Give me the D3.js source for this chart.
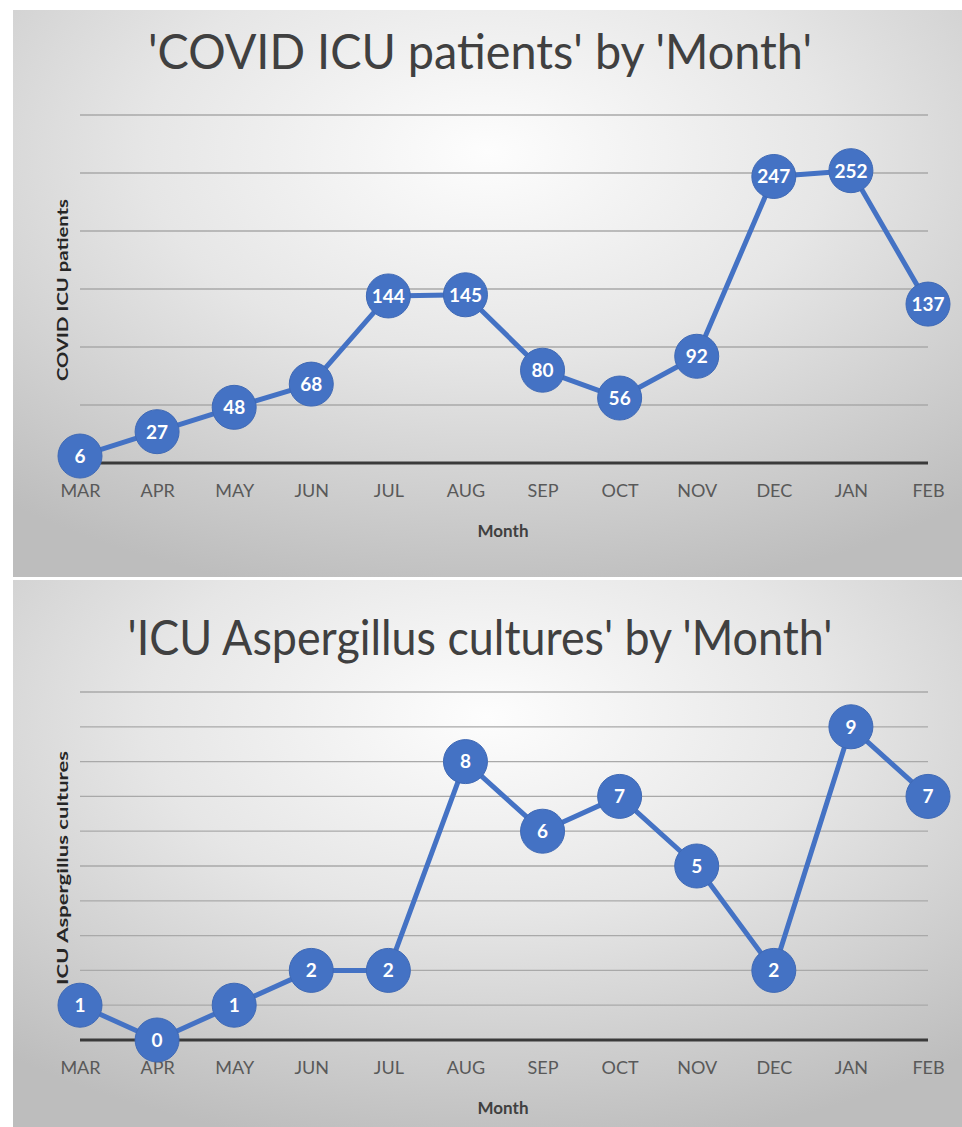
<!DOCTYPE html>
<html>
<head>
<meta charset="utf-8">
<script src="https://cdn.jsdelivr.net/npm/d3@7"></script>
<style>
  html, body { margin: 0; padding: 0; background: #fff; }
  svg { display: block; }
</style>
</head>
<body>
<script>
// months on the x axis (shared)
const months = ["MAR", "APR", "MAY", "JUN", "JUL", "AUG", "SEP", "OCT", "NOV", "DEC", "JAN", "FEB"];
// series values
const icuPatients = [6, 27, 48, 68, 144, 145, 80, 56, 92, 247, 252, 137];
const aspergillusCultures = [1, 0, 1, 2, 2, 8, 6, 7, 5, 2, 9, 7];
// gridline values
const icuTicks = [0, 50, 100, 150, 200, 250, 300];
const aspTicks = [0, 1, 2, 3, 4, 5, 6, 7, 8, 9, 10];
// titles
const titles = ["'COVID ICU patients' by 'Month'", "'ICU Aspergillus cultures' by 'Month'"];
const yTitles = ["COVID ICU patients", "ICU Aspergillus cultures"];

const W = 962, H = 1127;
const blue = "#4472c4";
const font = "Lato, 'Open Sans', sans-serif";

const svg = d3.select("body").append("svg")
  .attr("width", W)
  .attr("height", H);

// panel background gradient
const defs = svg.append("defs");
const grad = defs.append("radialGradient")
  .attr("id", "bg")
  .attr("cx", "50%").attr("cy", "25%").attr("r", "80%");
grad.append("stop").attr("offset", "0%").attr("stop-color", "#fdfdfd");
grad.append("stop").attr("offset", "45%").attr("stop-color", "#e6e6e6");
grad.append("stop").attr("offset", "100%").attr("stop-color", "#bdbdbd");

//draws one chart panel
function drawPanel(p) {
  const g = svg.append("g");

  g.append("rect")
    .attr("x", p.box[0]).attr("y", p.box[1])
    .attr("width", p.box[2]).attr("height", p.box[3])
    .style("fill", "url(#bg)");

  const x = d3.scalePoint().domain(months).range([80, 928]);
  const y = d3.scaleLinear().domain([0, d3.max(p.ticks)]).range([p.y0, p.y1]);

  // gridlines
  g.append("g").selectAll("line")
    .data(p.ticks.slice(1))
    .join("line")
    .attr("x1", 80).attr("x2", 928)
    .attr("y1", d => y(d)).attr("y2", d => y(d))
    .style("stroke", "#a9a9a9")
    .style("stroke-width", 1.3);

  // x axis
  const xAxis = g.append("g")
    .attr("transform", `translate(0,${y(0)})`)
    .call(d3.axisBottom(x).tickSize(0).tickPadding(21));
  xAxis.select(".domain").remove();
  xAxis.selectAll("text")
    .style("font-family", font)
    .style("font-size", "18px")
    .style("fill", "#595959");
  g.append("line")
    .attr("x1", 80).attr("x2", 928)
    .attr("y1", y(0)).attr("y2", y(0))
    .style("stroke", "#3a3a3a")
    .style("stroke-width", 3);

  // titles
  g.append("text")
    .text(p.title)
    .attr("x", 480).attr("y", p.titleY)
    .attr("text-anchor", "middle")
    .attr("textLength", p.titleLen)
    .attr("lengthAdjust", "spacingAndGlyphs")
    .style("font-family", font)
    .style("font-size", "48px")
    .style("fill", "#404040");

  g.append("text")
    .text("Month")
    .attr("x", 503).attr("y", y(0) + 74)
    .attr("text-anchor", "middle")
    .style("font-family", font)
    .style("font-weight", "bold")
    .style("font-size", "17px")
    .style("fill", "#404040");

  g.append("text")
    .text(p.yTitle)
    .attr("transform", `translate(68,${p.yTitleY}) rotate(-90)`)
    .attr("text-anchor", "middle")
    .attr("textLength", p.yTitleLen)
    .attr("lengthAdjust", "spacingAndGlyphs")
    .style("font-family", font)
    .style("font-weight", "bold")
    .style("font-size", "16px")
    .style("fill", "#262626");

  // line and markers
  const line = d3.line()
    .x((d, i) => x(months[i]))
    .y(d => y(d));
  g.append("path")
    .datum(p.values)
    .attr("d", line)
    .style("fill", "none")
    .style("stroke", blue)
    .style("stroke-width", 5)
    .style("stroke-linejoin", "round");

  const pts = g.append("g").selectAll("g")
    .data(p.values)
    .join("g")
    .attr("transform", (d, i) => `translate(${x(months[i])},${y(d)})`);
  pts.append("circle")
    .attr("r", 22)
    .style("fill", blue)
    .style("stroke", "#3f69b5")
    .style("stroke-width", 1);
  pts.append("text")
    .text(d => d)
    .attr("dy", "0.36em")
    .attr("text-anchor", "middle")
    .style("font-family", font)
    .style("font-weight", "bold")
    .style("font-size", "19px")
    .style("fill", "#fff");
}

drawPanel({
  box: [13, 10, 949, 567],
  values: icuPatients, ticks: icuTicks,
  y0: 463, y1: 115,
  title: titles[0], titleY: 69, titleLen: 664,
  yTitle: yTitles[0], yTitleY: 290, yTitleLen: 182
});

drawPanel({
  box: [13, 580, 949, 547],
  values: aspergillusCultures, ticks: aspTicks,
  y0: 1040, y1: 692,
  title: titles[1], titleY: 655, titleLen: 705,
  yTitle: yTitles[1], yTitleY: 868, yTitleLen: 234
});
</script>
</body>
</html>
